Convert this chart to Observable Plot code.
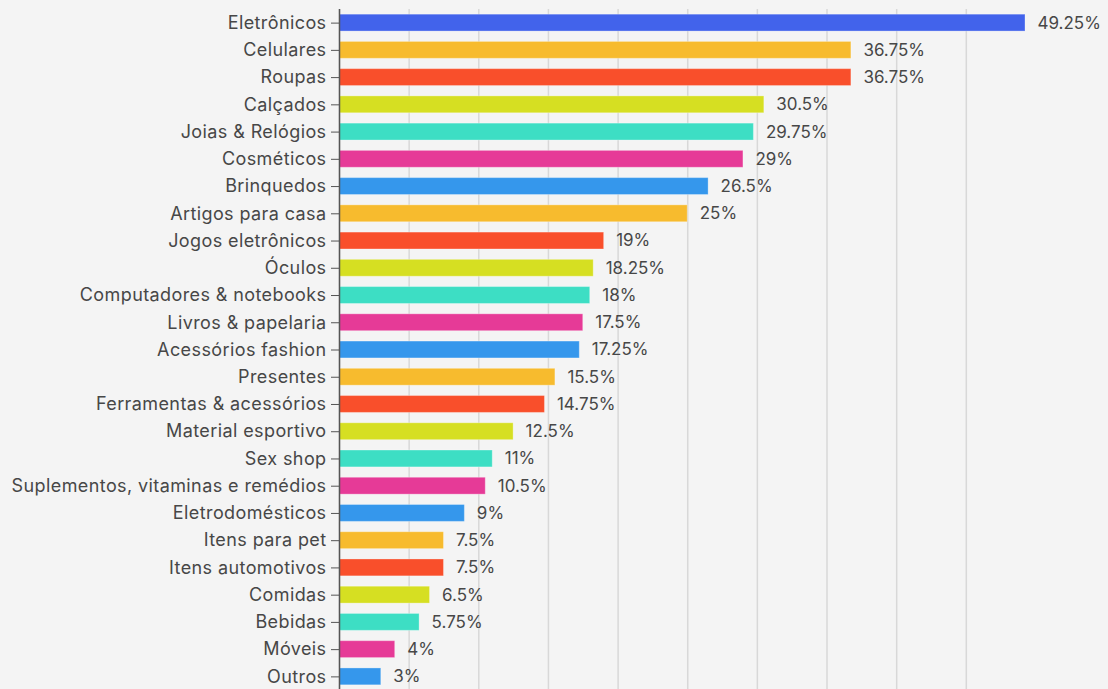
<!DOCTYPE html>
<html>
<head>
<meta charset="utf-8">
<script src="https://cdn.jsdelivr.net/npm/d3@7"></script>
<script src="https://cdn.jsdelivr.net/npm/@observablehq/plot@0.6"></script>
<style>
  html, body { margin: 0; padding: 0; background: #f4f4f4; overflow: hidden; }
  #chart svg { display: block; }
  #chart g[aria-label="y-axis tick label"] text { letter-spacing: 0.4px; }
</style>
</head>
<body>
<div id="chart"></div>
<script>
const categories = [
  "Eletrônicos", "Celulares", "Roupas", "Calçados", "Joias & Relógios",
  "Cosméticos", "Brinquedos", "Artigos para casa", "Jogos eletrônicos", "Óculos",
  "Computadores & notebooks", "Livros & papelaria", "Acessórios fashion", "Presentes",
  "Ferramentas & acessórios", "Material esportivo", "Sex shop",
  "Suplementos, vitaminas e remédios", "Eletrodomésticos", "Itens para pet",
  "Itens automotivos", "Comidas", "Bebidas", "Móveis", "Outros"
];
const values = [
  49.25, 36.75, 36.75, 30.5, 29.75,
  29, 26.5, 25, 19, 18.25,
  18, 17.5, 17.25, 15.5,
  14.75, 12.5, 11,
  10.5, 9, 7.5,
  7.5, 6.5, 5.75, 4, 3
];
const gridTicks = [0, 5, 10, 15, 20, 25, 30, 35, 40, 45];
const firstColor = "#4263eb";
const palette = ["#3597ec", "#f7bb2e", "#f94f2b", "#d6df22", "#3ddec4", "#e63a97"];

const data = categories.map((c, i) => ({
  category: c,
  value: values[i],
  color: i === 0 ? firstColor : palette[i % 6]
}));

const fontFamily = "Inter, 'Noto Sans', sans-serif";

const chart = Plot.plot({
  width: 1108,
  height: 690,
  marginTop: 9,
  marginBottom: 0,
  marginLeft: 339,
  marginRight: 83,
  style: { background: "#f4f4f4", fontFamily, fontSize: "18px", color: "#474747" },
  x: { domain: [0, 49.25], axis: null },
  y: { domain: categories, paddingInner: 0.38, paddingOuter: 0.19, round: false, label: null },
  marks: [
    Plot.gridX(gridTicks, { stroke: "#d8d8d8", strokeOpacity: 1, strokeWidth: 1.5 }),
    Plot.barX(data, {
      x: "value", y: "category", fill: "color",
      stroke: "white", strokeOpacity: 0.3, strokeWidth: 1
    }),
    Plot.text(data, {
      x: "value", y: "category", text: d => `${d.value}%`,
      textAnchor: "start", dx: 12, fill: "#474747", fontSize: 17
    }),
    Plot.axisY({
      tickSize: 8, tickPadding: 5, label: null, fill: "#474747",
      stroke: "#555", fontSize: 18
    }),
    Plot.ruleX([0], { stroke: "#555", strokeWidth: 1.5 })
  ]
});
document.getElementById("chart").append(chart);
</script>
</body>
</html>
